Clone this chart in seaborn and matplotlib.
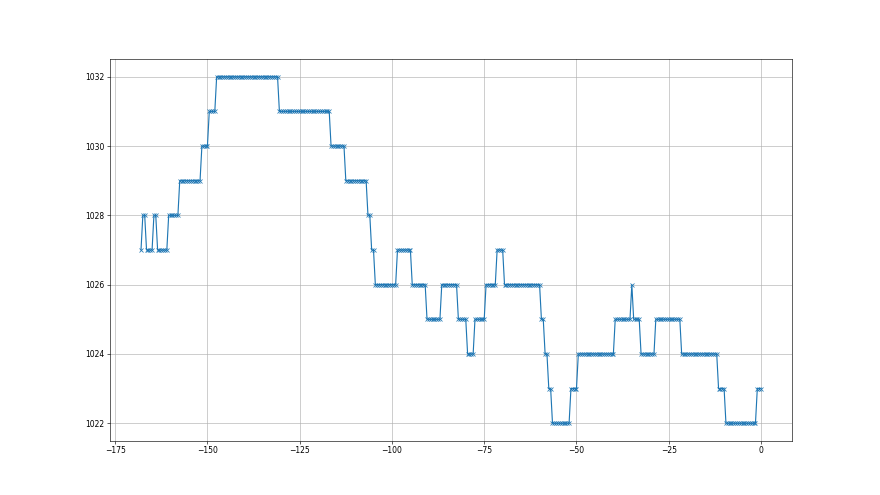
import matplotlib
matplotlib.use("Agg")
import matplotlib.pyplot as plt
import seaborn as sns
import numpy as np
import pandas as pd

# half-hourly readings over the last 7 days (hours relative to now)
hours = np.arange(-168, 0.5, 0.5)
pressure = [
    1027,
    1028, 1028,
    1027, 1027, 1027, 1027,
    1028, 1028,
    1027, 1027, 1027, 1027, 1027, 1027,
    1028, 1028, 1028, 1028, 1028, 1028,
    1029, 1029, 1029, 1029, 1029, 1029, 1029, 1029, 1029, 1029, 1029, 1029,
    1030, 1030, 1030, 1030,
    1031, 1031, 1031, 1031,
    1032, 1032, 1032, 1032, 1032, 1032, 1032, 1032, 1032, 1032,
    1032, 1032, 1032, 1032, 1032, 1032, 1032, 1032, 1032, 1032,
    1032, 1032, 1032, 1032, 1032, 1032, 1032, 1032, 1032, 1032,
    1032, 1032, 1032, 1032,
    1031, 1031, 1031, 1031, 1031, 1031, 1031, 1031, 1031, 1031,
    1031, 1031, 1031, 1031, 1031, 1031, 1031, 1031, 1031, 1031,
    1031, 1031, 1031, 1031, 1031, 1031, 1031, 1031,
    1030, 1030, 1030, 1030, 1030, 1030, 1030, 1030,
    1029, 1029, 1029, 1029, 1029, 1029, 1029, 1029, 1029, 1029, 1029, 1029,
    1028, 1028,
    1027, 1027,
    1026, 1026, 1026, 1026, 1026, 1026, 1026, 1026, 1026, 1026, 1026, 1026,
    1027, 1027, 1027, 1027, 1027, 1027, 1027, 1027,
    1026, 1026, 1026, 1026, 1026, 1026, 1026, 1026,
    1025, 1025, 1025, 1025, 1025, 1025, 1025, 1025,
    1026, 1026, 1026, 1026, 1026, 1026, 1026, 1026, 1026,
    1025, 1025, 1025, 1025, 1025,
    1024, 1024, 1024, 1024,
    1025, 1025, 1025, 1025, 1025, 1025,
    1026, 1026, 1026, 1026, 1026, 1026,
    1027, 1027, 1027, 1027,
    1026, 1026, 1026, 1026, 1026, 1026, 1026, 1026, 1026, 1026,
    1026, 1026, 1026, 1026, 1026, 1026, 1026, 1026, 1026, 1026,
    1025, 1025,
    1024, 1024,
    1023, 1023,
    1022, 1022, 1022, 1022, 1022, 1022, 1022, 1022, 1022, 1022,
    1023, 1023, 1023, 1023,
    1024, 1024, 1024, 1024, 1024, 1024, 1024, 1024, 1024, 1024,
    1024, 1024, 1024, 1024, 1024, 1024, 1024, 1024, 1024, 1024,
    1025, 1025, 1025, 1025, 1025, 1025, 1025, 1025, 1025,
    1026,
    1025, 1025, 1025, 1025,
    1024, 1024, 1024, 1024, 1024, 1024, 1024, 1024,
    1025, 1025, 1025, 1025, 1025, 1025, 1025, 1025, 1025, 1025,
    1025, 1025, 1025, 1025,
    1024, 1024, 1024, 1024, 1024, 1024, 1024, 1024, 1024, 1024,
    1024, 1024, 1024, 1024, 1024, 1024, 1024, 1024, 1024, 1024,
    1023, 1023, 1023, 1023,
    1022, 1022, 1022, 1022, 1022, 1022, 1022, 1022, 1022, 1022,
    1022, 1022, 1022, 1022, 1022, 1022, 1022,
    1023, 1023, 1023,
]
assert len(pressure) == len(hours), (len(pressure), len(hours))

df = pd.DataFrame({"hour": hours, "pressure": pressure})

fig, ax = plt.subplots(figsize=(16, 9), dpi=55)
sns.lineplot(data=df, x="hour", y="pressure", ax=ax, color="#1f77b4",
             marker="x", markeredgecolor="#1f77b4", markeredgewidth=1.0,
             markersize=6, linewidth=1.5)
ax.set_xlabel("")
ax.set_ylabel("")
ax.set_yticks([1022, 1024, 1026, 1028, 1030, 1032])
ax.grid(True, color="#b0b0b0", linewidth=0.8)
fig.savefig("out.png", dpi=55)
